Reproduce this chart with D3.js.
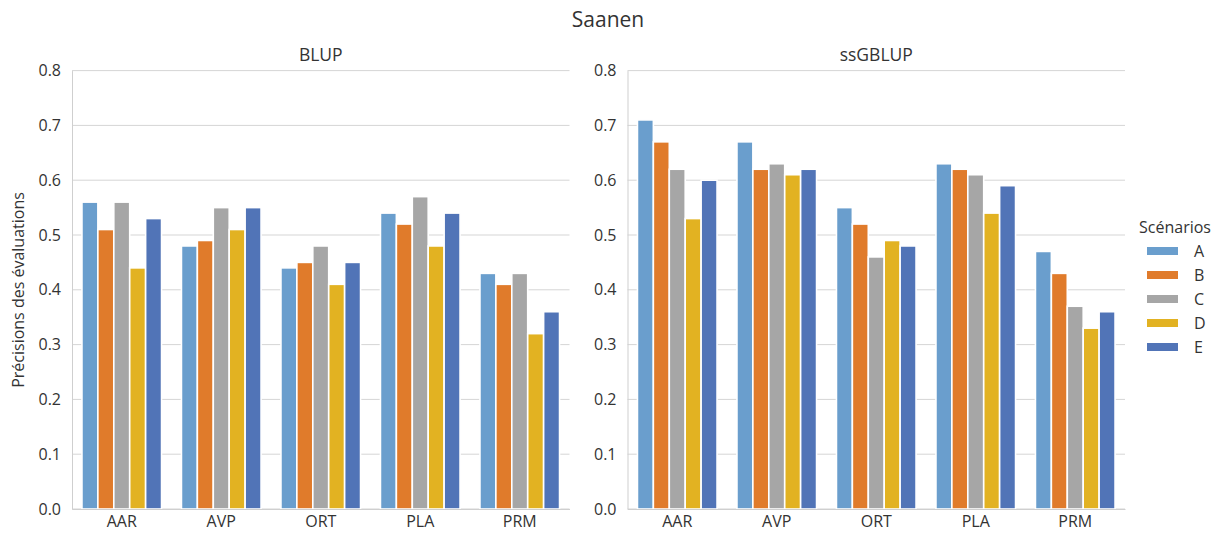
<!DOCTYPE html>
<html><head><meta charset="utf-8">
<script src="https://cdn.jsdelivr.net/npm/d3@7"></script>
<style>body{margin:0;background:#fff;} text{font-family:"Open Sans","Noto Sans",sans-serif;fill:#333;}</style>
</head><body>
<svg id="c" width="1213" height="533"></svg>
<script>
const categories = ["AAR","AVP","ORT","PLA","PRM"];
const scenarios = ["A","B","C","D","E"];
const colors = ["#6a9ecd","#e07b2b","#a6a6a6","#e2b222","#5174b7"];
const yTicks = [0,0.1,0.2,0.3,0.4,0.5,0.6,0.7,0.8];
// values per category, in order of scenarios A..E
const blup = [
  [0.56,0.51,0.56,0.44,0.53],
  [0.48,0.49,0.55,0.51,0.55],
  [0.44,0.45,0.48,0.41,0.45],
  [0.54,0.52,0.57,0.48,0.54],
  [0.43,0.41,0.43,0.32,0.36]
];
const ssgblup = [
  [0.71,0.67,0.62,0.53,0.60],
  [0.67,0.62,0.63,0.61,0.62],
  [0.55,0.52,0.46,0.49,0.48],
  [0.63,0.62,0.61,0.54,0.59],
  [0.47,0.43,0.37,0.33,0.36]
];
const panels = [{title:"BLUP", data:blup, x0:72}, {title:"ssGBLUP", data:ssgblup, x0:627.5}];

const svg = d3.select("#c");
const W = 497.5, yTop = 70.6, yBot = 509;
const y = d3.scaleLinear().domain([0,0.8]).range([yBot,yTop]);
const fs = "16px";

svg.append("text").attr("x",608).attr("y",27).attr("text-anchor","middle").style("font-size","21px").text("Saanen");

panels.forEach((p,pi)=>{
  const g = svg.append("g");
  const x = d3.scaleBand().domain(categories).range([p.x0,p.x0+W]).paddingInner(0).paddingOuter(0);
  const xs = d3.scaleBand().domain(scenarios).range([0,x.bandwidth()*0.8]);
  g.selectAll(".grid").data(yTicks).join("line")
    .attr("x1",p.x0).attr("x2",p.x0+W).attr("y1",d=>y(d)).attr("y2",d=>y(d))
    .attr("stroke","#d5d5d5").attr("stroke-width",1);
  const ya = g.append("g").attr("transform",`translate(${p.x0},0)`)
    .call(d3.axisLeft(y).tickValues(yTicks).tickFormat(d3.format(".1f")).tickSize(0).tickPadding(11));
  ya.select(".domain").attr("stroke","#cfcfcf");
  ya.selectAll("text").style("font-size",fs).attr("fill","#333");
  p.data.forEach((vals,ci)=>{
    g.selectAll(null).data(vals).join("rect")
      .attr("x",(d,si)=>x(categories[ci])+x.bandwidth()*0.1+xs(scenarios[si]))
      .attr("width",xs.bandwidth())
      .attr("y",d=>y(d)).attr("height",d=>yBot-y(d))
      .attr("fill",(d,si)=>colors[si])
      .attr("stroke","#fff").attr("stroke-width",1.6);
  });
  const xa = g.append("g").attr("transform",`translate(0,${yBot})`)
    .call(d3.axisBottom(x).tickSize(0).tickPadding(7));
  xa.select(".domain").attr("stroke","#cfcfcf");
  xa.selectAll("text").style("font-size",fs).attr("fill","#333");
  g.append("text").attr("x",p.x0+W/2).attr("y",61).attr("text-anchor","middle").style("font-size","17.5px").text(p.title);
});

svg.append("text").attr("transform","translate(24,290) rotate(-90)").attr("text-anchor","middle").style("font-size",fs).text("Précisions des évaluations");

const lg = svg.append("g");
lg.append("text").attr("x",1175).attr("y",233).attr("text-anchor","middle").style("font-size",fs).text("Scénarios");
scenarios.forEach((s,i)=>{
  const cy = 251 + i*24;
  lg.append("rect").attr("x",1147).attr("y",cy-4).attr("width",31).attr("height",8).attr("fill",colors[i]);
  lg.append("text").attr("x",1194).attr("y",cy+6).style("font-size",fs).text(s);
});
</script>
</body></html>
